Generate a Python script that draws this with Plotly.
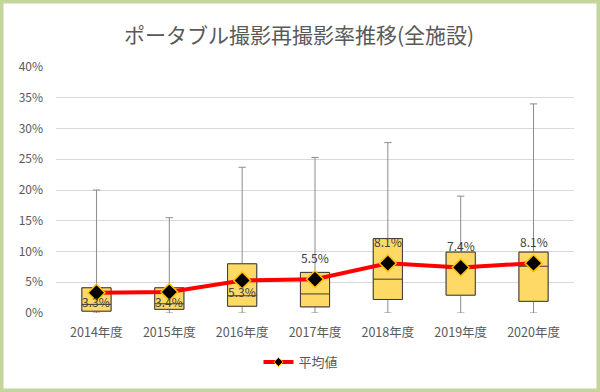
import plotly.graph_objects as go

# ---- data ----
years = ["2014年度", "2015年度", "2016年度", "2017年度", "2018年度", "2019年度", "2020年度"]
min_vals = [0.000, 0.000, 0.000, 0.000, 0.000, 0.000, 0.000]
q1_vals = [0.003, 0.006, 0.011, 0.010, 0.022, 0.029, 0.019]
median_vals = [0.014, 0.015, 0.028, 0.031, 0.055, 0.073, 0.076]
q3_vals = [0.041, 0.041, 0.080, 0.066, 0.121, 0.099, 0.099]
max_vals = [0.200, 0.155, 0.237, 0.253, 0.277, 0.190, 0.340]
mean_vals = [0.033, 0.034, 0.053, 0.055, 0.081, 0.074, 0.081]
title_text = "ポータブル撮影再撮影率推移(全施設)"
legend_name = "平均値"

# ---- layout constants ----
W, H = 600, 392
ML, MR, MT, MB = 56, 26, 67, 79
FONT = "Noto Sans CJK JP, Noto Sans, sans-serif"
GRAY = "#595959"

fig = go.Figure()

# whiskers (gray)
fig.add_trace(go.Box(
    x=years, q1=q1_vals, median=median_vals, q3=q3_vals,
    lowerfence=min_vals, upperfence=max_vals,
    width=0.4, whiskerwidth=0.25,
    line=dict(color="#8C8C8C", width=1),
    fillcolor="rgba(0,0,0,0)",
    showlegend=False, hoverinfo="skip",
))
# boxes (gold)
fig.add_trace(go.Box(
    x=years, q1=q1_vals, median=median_vals, q3=q3_vals,
    lowerfence=q1_vals, upperfence=q3_vals,
    width=0.4, whiskerwidth=0,
    line=dict(color="#3A3A3A", width=1),
    fillcolor="#FFD966",
    showlegend=False, hoverinfo="skip",
))
# mean line
fig.add_trace(go.Scatter(
    x=years, y=mean_vals, mode="lines+markers", name=legend_name,
    line=dict(color="#FF0000", width=4),
    marker=dict(symbol="diamond", size=13, color="#000000",
                line=dict(color="#FFC000", width=1.5)),
    showlegend=False, hoverinfo="skip",
))
# legend entry proxy (small marker, like the reference legend)
fig.add_trace(go.Scatter(
    x=[None], y=[None], mode="lines+markers", name=legend_name,
    line=dict(color="#FF0000", width=4),
    marker=dict(symbol="diamond", size=7, color="#000000",
                line=dict(color="#FFC000", width=1)),
    hoverinfo="skip",
))

label_shift = [-9, -9, -11, 22, 22, 22, 22]
for i, (yr, m) in enumerate(zip(years, mean_vals)):
    fig.add_annotation(x=yr, y=m, text=f"{m*100:.1f}%", showarrow=False,
                       yshift=label_shift[i],
                       font=dict(family=FONT, size=12, color="#404040"))

plot_w = W - ML - MR
plot_h = H - MT - MB
def px_x(p):
    return (p - ML) / plot_w
def px_y(p):
    return (H - MB - p) / plot_h

fig.add_shape(type="rect", xref="paper", yref="paper",
              x0=px_x(1.75), x1=px_x(W - 1.75), y0=px_y(H - 1.75), y1=px_y(1.75),
              line=dict(color="#C3D69B", width=3.5), fillcolor="rgba(0,0,0,0)",
              layer="above")

fig.update_layout(
    width=W, height=H,
    margin=dict(l=ML, r=MR, t=MT, b=MB, pad=0, autoexpand=False),
    paper_bgcolor="#FFFFFF", plot_bgcolor="#FFFFFF",
    font=dict(family=FONT, size=12, color=GRAY),
    title=dict(text=title_text, x=299 / W, xanchor="center", xref="container",
               y=1 - 36 / H, yref="container", yanchor="middle",
               font=dict(family=FONT, size=21, color=GRAY)),
    boxmode="overlay",
    showlegend=True,
    legend=dict(orientation="h", x=px_x(301), xanchor="center",
                y=px_y(362), yanchor="middle",
                itemwidth=30, itemclick=False, itemdoubleclick=False,
                font=dict(family=FONT, size=13, color=GRAY), bgcolor="rgba(0,0,0,0)"),
    xaxis=dict(type="category", showgrid=False, zeroline=False, showline=False,
               ticks="", ticklabelstandoff=10, tickangle=0, automargin=False,
               tickfont=dict(family=FONT, size=12.5, color=GRAY)),
    yaxis=dict(range=[0, 0.40], dtick=0.05, tickformat=".0%", showgrid=True,
               gridcolor="#D9D9D9", gridwidth=1, zeroline=False, showline=False,
               ticks="", ticklabelstandoff=12, automargin=False,
               tickfont=dict(family=FONT, size=12, color=GRAY)),
    hovermode=False,
)

fig.write_html("out.html", config={"displayModeBar": False},
               post_script="document.body.style.margin='0';")
